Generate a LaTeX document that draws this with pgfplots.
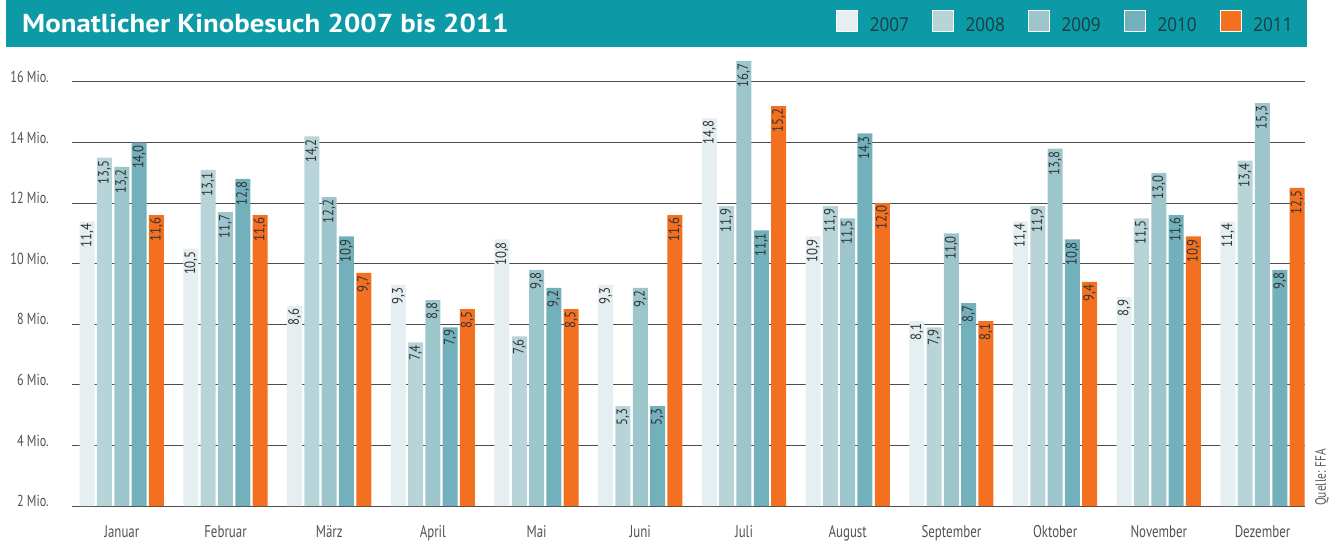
\documentclass[border=0pt]{standalone}
\usepackage{pgfplots}
\pgfplotsset{compat=1.18}
\usepackage{fontspec}
\setmainfont{PT Sans}
\newfontfamily\condfont{PT Sans}[FakeStretch=0.76]
\newfontfamily\barfont{PT Sans}[FakeStretch=0.85]
\newfontfamily\titlefont{PT Sans}[FakeStretch=1.11]
\newfontfamily\legfont{Open Sans}[FakeStretch=0.9]

\definecolor{hdr}{HTML}{0B9AA6}
\definecolor{cA}{HTML}{E5EEF0}
\definecolor{cB}{HTML}{B7D4D8}
\definecolor{cC}{HTML}{9DC5CC}
\definecolor{cD}{HTML}{72B1BB}
\definecolor{cE}{HTML}{F37021}
\definecolor{gridc}{HTML}{4D4D4D}
\definecolor{txt}{HTML}{333333}
\definecolor{legtxt}{HTML}{1E3B40}

\begin{document}
\begin{tikzpicture}
\path[use as bounding box] (0pt,0pt) rectangle (1341pt,-547pt);
\fill[hdr] (6pt,0pt) rectangle (1307pt,-47pt);
\node[anchor=west, text=white, font=\titlefont\bfseries\fontsize{26}{30}\selectfont, inner sep=0pt] at (22pt,-23pt) {Monatlicher Kinobesuch 2007 bis 2011};
\node[rotate=90, anchor=west, inner sep=0pt, text=txt!80, font=\condfont\fontsize{15}{17}\selectfont] at (1322pt,-506pt) {Quelle: FFA};
\begin{axis}[
  at={(72pt,-506pt)}, anchor=south west,
  scale only axis, width=1233pt, height=451pt,
  xmin=-0.48, xmax=11.41, ymin=2, ymax=16.89,
  ybar, bar width=0.1446,
  axis line style={draw=none},
  major tick length=0pt,
  xtick={0,...,11},
  xticklabels={Januar,Februar,März,April,Mai,Juni,Juli,August,September,Oktober,November,Dezember},
  xticklabel style={font=\condfont\fontsize{17}{19}\selectfont, text=txt!85, anchor=north, inner sep=0pt, yshift=-19pt},
  ytick={2,4,...,16},
  yticklabels={2 Mio.,4 Mio.,6 Mio.,8 Mio.,10 Mio.,12 Mio.,14 Mio.,16 Mio.},
  yticklabel style={font=\condfont\fontsize{16}{18}\selectfont, text=txt!85, anchor=east, inner sep=0pt, xshift=-23pt, yshift=5pt},
  ymajorgrids, grid style={color=gridc, line width=1pt},
  nodes near coords,
  /pgf/number format/.cd, fixed, fixed zerofill, precision=1, use comma, assume math mode=true,
  /pgfplots/.cd,
  every node near coord/.append style={rotate=90, anchor=east, inner sep=2.5pt, text=txt, font=\barfont\fontsize{15}{17}\selectfont},
  legend columns=5,
  legend style={at={(0.6196,1.0743)}, anchor=west, draw=none, fill=none, inner sep=0pt, outer sep=0pt,
    font=\legfont\fontsize{19}{21}\selectfont, text=legtxt,
    nodes={inner sep=0pt},
    /tikz/every odd column/.style={column sep=12pt},
    /tikz/every even column/.style={column sep=23pt}},
  legend image code/.code={\draw[#1, draw=white, line width=0.8pt] (0pt,-6pt) rectangle (21pt,15pt);},
]
\addplot[fill=cA, draw=none, bar shift=-0.3336] coordinates {(0,11.4) (1,10.5) (2,8.6) (3,9.3) (4,10.8) (5,9.3) (6,14.8) (7,10.9) (8,8.1) (9,11.4) (10,8.9) (11,11.4)};
\addplot[fill=cB, draw=none, bar shift=-0.1668] coordinates {(0,13.5) (1,13.1) (2,14.2) (3,7.4) (4,7.6) (5,5.3) (6,11.9) (7,11.9) (8,7.9) (9,11.9) (10,11.5) (11,13.4)};
\addplot[fill=cC, draw=none, bar shift=0] coordinates {(0,13.2) (1,11.7) (2,12.2) (3,8.8) (4,9.8) (5,9.2) (6,16.7) (7,11.5) (8,11.0) (9,13.8) (10,13.0) (11,15.3)};
\addplot[fill=cD, draw=none, bar shift=0.1668] coordinates {(0,14.0) (1,12.8) (2,10.9) (3,7.9) (4,9.2) (5,5.3) (6,11.1) (7,14.3) (8,8.7) (9,10.8) (10,11.6) (11,9.8)};
\addplot[fill=cE, draw=none, bar shift=0.3336] coordinates {(0,11.6) (1,11.6) (2,9.7) (3,8.5) (4,8.5) (5,11.6) (6,15.2) (7,12.0) (8,8.1) (9,9.4) (10,10.9) (11,12.5)};
\legend{2007,2008,2009,2010,2011}
\end{axis}
\end{tikzpicture}
\end{document}
